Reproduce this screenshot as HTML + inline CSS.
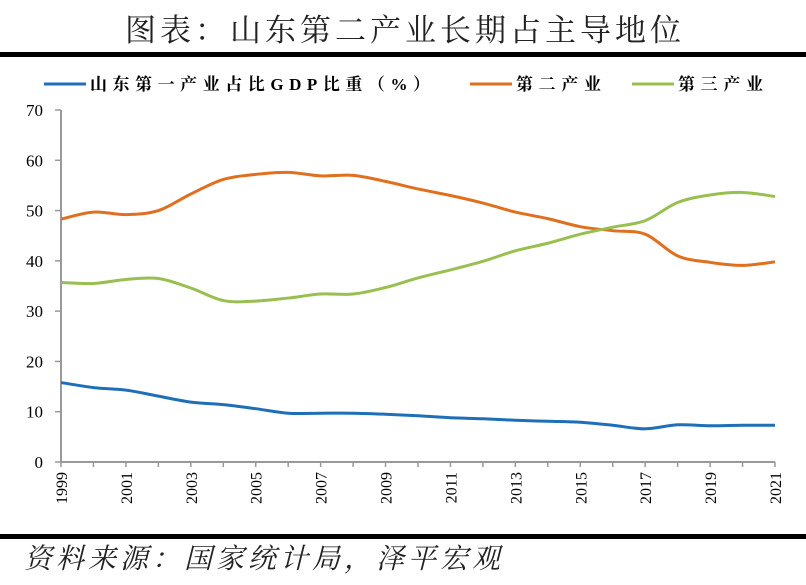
<!DOCTYPE html>
<html><head><meta charset="utf-8"><style>
body{margin:0;background:#fff;width:806px;height:580px;overflow:hidden}
svg text{font-family:"Liberation Serif","Noto Serif CJK SC",serif}
</style></head><body>
<svg id="c" width="806" height="580">
<text x="405" y="41" text-anchor="middle" font-size="31" fill="#222" style="font-family:'Liberation Serif','Noto Serif CJK SC',serif;letter-spacing:4px">图表：山东第二产业长期占主导地位</text>
<rect x="0" y="52" width="806" height="5" fill="#000"/>
<rect x="0" y="534" width="806" height="5" fill="#000"/>
<text x="24" y="568" font-size="28" font-style="italic" fill="#222" style="font-family:'Liberation Serif','Noto Serif CJK SC',serif;letter-spacing:4px">资料来源：国家统计局，泽平宏观</text>
<g id="legend" font-size="17" font-weight="bold" style="letter-spacing:3px">
<line x1="44" y1="84" x2="86" y2="84" stroke="#1f6fb8" stroke-width="3"/>
<text x="90" y="90" textLength="343">山东第一产业占比GDP比重（%）</text>
<line x1="470" y1="84" x2="512" y2="84" stroke="#e07020" stroke-width="3"/>
<text x="516" y="90" textLength="88">第二产业</text>
<line x1="632" y1="84" x2="674" y2="84" stroke="#98bf50" stroke-width="3"/>
<text x="678" y="90" textLength="88">第三产业</text>
</g>
<g id="axes"></g><g id="series"></g>
</svg>
<script>
const years=[1999,2000,2001,2002,2003,2004,2005,2006,2007,2008,2009,2010,2011,2012,2013,2014,2015,2016,2017,2018,2019,2020,2021];
const primary=[15.8,14.8,14.3,13.1,11.9,11.4,10.6,9.7,9.7,9.7,9.5,9.2,8.8,8.6,8.3,8.1,7.9,7.3,6.6,7.4,7.2,7.3,7.3];
const secondary=[48.3,49.7,49.2,50.0,53.3,56.2,57.2,57.6,56.9,57.0,55.8,54.3,53.0,51.5,49.7,48.4,46.8,46.0,45.3,41.0,39.7,39.1,39.8];
const tertiary=[35.7,35.5,36.3,36.5,34.6,32.1,32.0,32.6,33.4,33.4,34.7,36.6,38.2,39.9,42.0,43.5,45.3,46.7,48.0,51.6,53.1,53.6,52.8];
const yTicks=[0,10,20,30,40,50,60,70];
const xLabels=["1999","2001","2003","2005","2007","2009","2011","2013","2015","2017","2019","2021"];
const X0=61,X1=775,Y0=462,Y1=110;
const xs=y=>X0+(y-1999)/(2021-1999)*(X1-X0);
const ys=v=>Y0-v/70*(Y0-Y1);
const NS="http://www.w3.org/2000/svg";
const ax=document.getElementById('axes'),se=document.getElementById('series');
function mk(p,t,a){const e=document.createElementNS(NS,t);for(const k in a)e.setAttribute(k,a[k]);p.appendChild(e);return e;}
let l=mk(ax,'line',{x1:X0,y1:Y1,x2:X0,y2:Y0,stroke:'#999','stroke-width':2});


l=mk(ax,'line',{x1:X0,y1:Y0,x2:X1,y2:Y0,stroke:'#999','stroke-width':2});


yTicks.forEach(v=>{
 mk(ax,'line',{x1:X0-6,y1:ys(v),x2:X0,y2:ys(v),stroke:'#999','stroke-width':1.5});
 const t=mk(ax,'text',{x:X0-18,y:ys(v)+6,'text-anchor':'end','font-size':17});
 t.textContent=v;
 
 
});
years.forEach(y=>mk(ax,'line',{x1:xs(y),y1:Y0,x2:xs(y),y2:Y0+5,stroke:'#999','stroke-width':1.5}));
xLabels.forEach(s=>{
 const x=xs(+s)+6,y=Y0+10;
 const t=mk(ax,'text',{x:x,y:y,'text-anchor':'end','font-size':16,transform:`rotate(-90 ${x} ${y})`});
 t.textContent=s;
 
 
});
function path(vals){
 const p=vals.map((v,i)=>[xs(years[i]),ys(v)]);
 let d=`M${p[0][0]},${p[0][1]}`;
 for(let i=0;i<p.length-1;i++){
  const a=p[i-1]||p[i],b=p[i],c=p[i+1],e=p[i+2]||c;
  d+=` C${b[0]+(c[0]-a[0])/6},${b[1]+(c[1]-a[1])/6} ${c[0]-(e[0]-b[0])/6},${c[1]-(e[1]-b[1])/6} ${c[0]},${c[1]}`;
 }
 return d;
}
[[primary,'#1f6fb8','line-primary'],[secondary,'#e07020','line-secondary'],[tertiary,'#98bf50','line-tertiary']].forEach(([v,c,n])=>{
 const e=mk(se,'path',{d:path(v),fill:'none',stroke:c,'stroke-width':3});
 
 
});
</script>
</body></html>
